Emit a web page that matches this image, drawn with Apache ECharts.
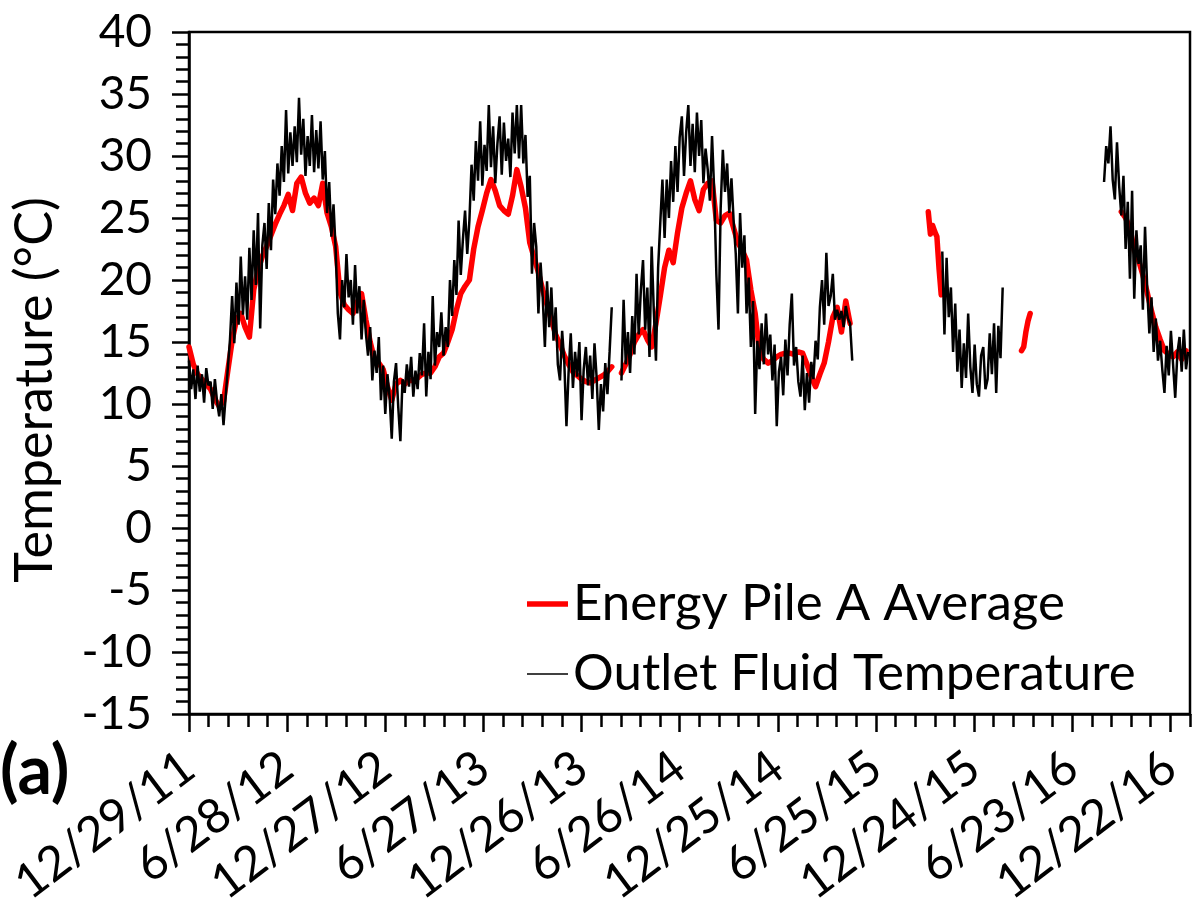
<!DOCTYPE html>
<html>
<head>
<meta charset="utf-8">
<title>Energy pile temperatures</title>
<script src="https://cdn.jsdelivr.net/npm/echarts@6/dist/echarts.min.js"></script>
<style>
  html, body { margin: 0; padding: 0; background: #fff; }
  #chart { width: 1197px; height: 909px; }
</style>
</head>
<body>
<div id="chart"></div>
<script>
// Time is counted in days after the first logged day (12/29/11).
const firstDay = Date.UTC(2011, 11, 29);
const axisEndDay = 1856.4;
const majorTickDays = 182;
const minorTickDays = 36.4;

// Outlet fluid temperature (°C): logged segments, one value every 4 days.
const outletStep = 4;
const outletStartDays = [0, 802, 1397, 1697];
const outletSeg1 = [
  13.5, 11.2, 12.8, 10.4, 13.1, 11.0, 12.4, 10.1, 12.9, 11.5,
  11.8, 9.6, 12.0, 10.2, 9.0, 10.8, 8.3, 10.6, 12.9, 15.2,
  18.7, 14.9, 19.8, 16.4, 21.9, 17.2, 20.3, 16.8, 22.6, 18.4,
  24.0, 19.6, 25.4, 16.1, 22.8, 24.6, 20.9, 26.2, 22.4, 28.1,
  25.3, 29.4, 26.8, 30.8, 27.9, 33.7, 28.6, 31.9, 29.2, 32.4,
  29.5, 34.7, 30.1, 33.0, 28.4, 31.6, 29.2, 33.3, 28.7, 32.1,
  29.0, 32.8, 28.1, 30.4, 25.4, 27.9, 23.5, 26.1, 22.4, 17.3,
  15.2, 20.0, 17.8, 22.1, 18.6, 20.0, 16.4, 21.2, 17.3, 19.5,
  15.2, 18.4, 15.7, 13.9, 16.2, 11.9, 14.3, 12.5, 15.4, 10.3,
  13.1, 9.2, 12.4, 10.6, 7.2, 11.8, 13.3, 9.8, 7.0, 12.0,
  10.9, 13.2, 11.4, 13.8, 10.6, 12.7, 11.2, 14.1, 12.3, 16.5,
  10.6, 14.2, 12.0, 18.7, 13.1, 15.8, 14.6, 17.4, 13.9, 16.2,
  14.6, 20.0, 17.1, 21.6, 18.8, 24.8, 20.4, 23.3, 25.6, 22.1,
  24.8, 29.3, 26.4, 31.2, 28.0, 32.8, 27.6, 30.9, 28.8, 34.1,
  29.1, 32.4, 27.8, 31.0, 33.2, 28.5, 32.7, 29.6, 31.4, 28.3,
  33.5, 30.2, 34.1, 29.8, 34.1, 29.4, 31.7, 26.7, 28.4, 20.5,
  24.6, 22.7, 17.3, 21.4, 18.6, 14.6, 19.9, 16.2, 19.4, 15.1,
  17.8, 13.2, 11.9, 15.9, 13.4, 8.2, 12.6, 15.7, 11.3, 14.2,
  12.2, 15.0, 8.7, 12.8, 14.6, 11.5, 13.9, 10.4, 14.9, 12.1,
  7.9, 11.6, 9.4, 13.3, 10.8, 14.2, 17.8
];
const outletSeg2 = [
  11.9, 18.4, 13.2, 15.8, 12.5, 17.1, 14.0, 20.5, 15.6, 19.2,
  21.6, 16.0, 19.4, 13.8, 22.7, 17.5, 13.5, 21.0, 24.6, 28.1,
  23.4, 28.1, 25.0, 29.6, 26.3, 30.8, 27.1, 31.5, 33.2, 28.4,
  31.9, 34.1, 29.2, 32.6, 28.7, 33.5, 30.0, 32.9, 27.8, 30.6,
  28.9, 26.4, 31.6, 27.2, 20.5, 16.0, 25.8, 30.5, 27.1, 29.4,
  25.4, 28.2, 24.8, 22.1, 17.3, 25.4, 21.0, 23.6, 17.3, 20.2,
  14.6, 18.3, 9.2, 15.1, 12.8, 16.5, 13.2, 17.3, 14.0, 15.6,
  11.9, 14.8, 8.2, 12.6, 13.8, 10.7, 15.2, 12.3, 16.4, 18.9,
  13.1, 14.6, 11.8, 10.6, 13.9, 9.5, 12.5, 10.1, 13.4, 12.0,
  15.1, 13.6, 17.8, 20.0, 16.4, 22.2, 17.9, 18.7, 20.5, 16.8,
  17.6, 16.8, 17.5, 16.2, 17.9, 16.9, 16.5, 13.5
];
const outletSeg3 = [
  22.3, 15.6, 21.8, 17.0, 19.4, 14.2, 18.1, 12.6, 16.0, 11.3,
  14.9, 12.1, 17.3, 13.0, 10.9, 14.8, 11.6, 10.6, 13.9, 14.6,
  11.2, 12.0, 15.7, 12.4, 16.5, 10.9, 16.3, 13.7, 19.4
];
const outletSeg4 = [
  27.9, 30.8, 29.4, 32.4, 28.1, 26.5, 31.1, 27.6, 25.2, 28.4,
  22.5, 26.3, 20.1, 27.2, 18.5, 24.0, 21.3, 22.8, 17.6, 24.3,
  19.4, 15.7, 18.6, 14.2, 16.9, 13.5, 15.1, 12.8, 10.9, 14.7,
  12.3, 15.9, 13.2, 10.5, 14.1, 15.4, 12.6, 16.0, 12.8, 14.2
];

// Energy Pile A average (°C): logged segments.
const pileStartDays = [0, 802, 1371, 1544, 1729];
const pileSteps = [8, 8, 4, 4, 8];
const pileSeg1 = [
  14.6, 13.2, 12.4, 12.0, 11.6, 11.2, 10.4, 9.8, 10.2, 12.7,
  15.1, 16.8, 17.3, 16.2, 15.4, 19.2, 20.8, 21.9, 22.7, 23.6,
  24.5, 25.3, 26.0, 26.9, 25.6, 27.8, 28.3, 27.0, 26.2, 26.6,
  26.0, 27.8, 25.4, 24.3, 22.7, 19.0, 18.0, 17.6, 17.3, 18.2,
  18.9, 16.8, 15.0, 13.6, 13.3, 12.8, 11.4, 10.3, 11.6, 11.9,
  11.6, 11.9, 11.9, 12.1, 12.4, 12.5, 12.5, 13.0, 13.8, 14.1,
  15.0, 16.0, 17.6, 18.9, 19.5, 20.0, 22.5, 24.3, 25.6, 27.0,
  28.1, 27.2, 26.0, 25.6, 25.3, 26.8, 28.9, 27.5, 25.8, 23.0,
  21.8, 20.6, 19.2, 18.0, 16.8, 15.6, 14.8, 13.9, 13.2, 12.6,
  12.3, 12.0, 11.8, 11.7, 11.9, 12.1, 12.3, 12.6, 13.0
];
const pileSeg2 = [
  12.5, 13.2, 14.0, 15.0, 15.6, 16.0, 15.2, 14.6, 16.5, 18.7,
  21.0, 22.4, 21.4, 23.8, 25.8, 27.0, 28.0, 26.5, 25.6, 27.3,
  27.8, 28.0, 24.8, 24.6, 25.2, 25.4, 24.2, 23.0, 22.4, 21.6,
  19.2, 17.3, 14.2, 13.6, 13.3, 13.5, 13.8, 14.0, 14.1, 14.1,
  14.0, 14.2, 14.1, 13.2, 12.2, 11.4, 12.4, 13.3, 15.0, 17.0,
  17.8, 15.8, 18.3, 16.5
];
const pileSeg3 = [25.5, 23.7, 24.4, 23.9, 23.5, 20.9, 18.8];
const pileSeg4 = [14.3, 14.6, 15.8, 16.7, 17.3];
const pileSeg5 = [
  25.5, 25.0, 24.2, 22.4, 21.6, 20.4, 19.0, 17.5, 16.2, 15.2,
  14.3, 14.0, 13.8, 14.2, 13.6, 14.3
];

const yTickMin = -15, yTickMax = 40, yTickStep = 5;
const seriesNames = ['Energy Pile A Average', 'Outlet Fluid Temperature'];

// Join segments into [day, value] pairs, with a break between segments.
function joinSegments(segments, starts, steps) {
  const out = [];
  segments.forEach((seg, s) => {
    if (s > 0) out.push([starts[s] - 1, '-']);
    const step = Array.isArray(steps) ? steps[s] : steps;
    seg.forEach((v, i) => out.push([starts[s] + i * step, v]));
  });
  return out;
}

const outletData = joinSegments([outletSeg1, outletSeg2, outletSeg3, outletSeg4], outletStartDays, outletStep);
const pileData = joinSegments([pileSeg1, pileSeg2, pileSeg3, pileSeg4, pileSeg5], pileStartDays, pileSteps);

const majorTicks = [];
for (let d = 0; d <= axisEndDay + 1e-6; d += majorTickDays) majorTicks.push(d);
const minorTicks = [];
for (let k = 0; k * minorTickDays <= axisEndDay + 1e-6; k++) minorTicks.push(+(k * minorTickDays).toFixed(2));

function dayLabel(v) {
  const d = new Date(firstDay + Math.round(v) * 86400000);
  return (d.getUTCMonth() + 1) + '/' + d.getUTCDate() + '/' + String(d.getUTCFullYear()).slice(2);
}

const FONT = 'Lato';
const RED = '#ff0000';
const BLACK = '#000000';

const chart = echarts.init(document.getElementById('chart'), null, { renderer: 'canvas' });
chart.setOption({
  animation: false,
  backgroundColor: '#ffffff',
  textStyle: { fontFamily: FONT, color: '#000' },
  grid: {
    left: 189, right: 7, top: 32, bottom: 195,
    show: true, borderColor: '#000', borderWidth: 2.5,
    outerBoundsMode: 'none'
  },
  legend: {
    show: true,
    orient: 'vertical',
    left: 527, top: 578, padding: 0,
    itemWidth: 41, itemHeight: 14, itemGap: 18,
    symbolKeepAspect: true,
    itemStyle: { borderWidth: 0 },
    textStyle: { fontFamily: FONT, fontSize: 51, color: '#000', lineHeight: 52 },
    data: [
      { name: seriesNames[0], icon: 'path://M0,0L41,0L41,5.5L0,5.5Z', itemStyle: { color: RED } },
      { name: seriesNames[1], icon: 'path://M0,0L41,0L41,1.6L0,1.6Z', itemStyle: { color: BLACK } }
    ]
  },
  xAxis: [{
    type: 'value', min: 0, max: axisEndDay,
    position: 'bottom',
    axisLine: { show: true, onZero: false, lineStyle: { color: '#000', width: 2.5 } },
    axisTick: { show: true, length: 18, lineStyle: { color: '#000', width: 2.5 }, customValues: majorTicks },
    axisLabel: {
      show: true, customValues: majorTicks, formatter: dayLabel,
      rotate: 37, margin: 48, fontFamily: FONT, fontSize: 48, color: '#000'
    },
    splitLine: { show: false }
  }, {
    type: 'value', min: 0, max: axisEndDay,
    position: 'bottom',
    axisLine: { show: false, onZero: false },
    axisTick: { show: true, length: 13, lineStyle: { color: '#000', width: 2.5 }, customValues: minorTicks },
    axisLabel: { show: false },
    splitLine: { show: false }
  }],
  yAxis: {
    type: 'value', min: yTickMin, max: yTickMax, interval: yTickStep,
    name: 'Temperature (°C)', nameLocation: 'middle', nameGap: 128,
    nameTextStyle: { fontFamily: FONT, fontSize: 52, color: '#000', padding: [0, 34, 0, 0] },
    axisLine: { show: true, onZero: false, lineStyle: { color: '#000', width: 2.5 } },
    axisTick: { show: true, length: 17, lineStyle: { color: '#000', width: 2.5 } },
    minorTick: { show: true, splitNumber: 5, length: 13, lineStyle: { color: '#000', width: 2.5 } },
    axisLabel: { margin: 37, fontFamily: FONT, fontSize: 46, color: '#000' },
    splitLine: { show: false }
  },
  series: [{
    name: seriesNames[0], type: 'line', xAxisIndex: 0,
    data: pileData, showSymbol: false, symbol: 'none',
    connectNulls: false,
    lineStyle: { color: RED, width: 5.5, cap: 'round', join: 'round' },
    itemStyle: { color: RED }
  }, {
    name: seriesNames[1], type: 'line', xAxisIndex: 0,
    data: outletData, showSymbol: false, symbol: 'none',
    connectNulls: false,
    lineStyle: { color: BLACK, width: 2.5 },
    itemStyle: { color: BLACK }
  }],
  graphic: [{
    type: 'text', left: 0, top: 738,
    style: { text: '(a)', fontFamily: FONT, fontWeight: 'bold', fontSize: 68, fill: '#000' }
  }]
});
</script>
</body>
</html>
